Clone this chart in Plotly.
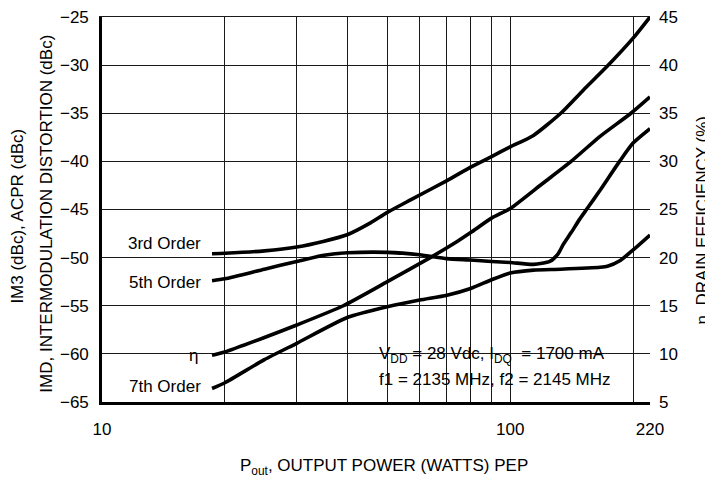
import plotly.graph_objects as go

# ---- data ----
x_3rd = [18.6, 20, 25, 30, 35, 40, 45, 50, 57, 70, 80, 90, 100, 114, 133, 151, 173, 200, 220]
imd_3rd = [-49.6, -49.55, -49.3, -48.9, -48.3, -47.6, -46.5, -45.3, -44.0, -42.0, -40.6, -39.5, -38.5, -37.3, -35.0, -32.6, -30.1, -27.2, -25.0]

x_5th = [18.6, 20, 25, 30, 35, 40, 50, 60, 70, 80, 90, 100, 114, 125, 131, 135, 141, 148, 155, 166, 186, 200, 220]
imd_5th = [-52.4, -52.2, -51.2, -50.4, -49.75, -49.5, -49.45, -49.7, -50.1, -50.25, -50.4, -50.5, -50.7, -50.4, -49.6, -48.6, -47.4, -46.0, -44.8, -43.0, -39.9, -38.1, -36.6]

x_7th = [18.6, 20, 25, 30, 40, 50, 60, 70, 80, 90, 100, 114, 133, 166, 173, 186, 200, 220]
imd_7th = [-63.6, -63.0, -60.6, -58.9, -56.2, -55.1, -54.4, -53.9, -53.2, -52.3, -51.6, -51.3, -51.2, -51.0, -50.9, -50.3, -49.2, -47.65]

x_eff = [18.6, 20, 25, 30, 39, 50, 63.7, 74.3, 80, 90, 100, 120, 141, 166, 197.6, 220]
eff = [9.85, 10.2, 11.7, 13.0, 15.0, 17.5, 20.0, 21.7, 22.6, 24.1, 25.1, 27.7, 30.0, 32.6, 35.0, 36.7]

x_label_vals = [10, 100, 220]
x_grid_vals = [20, 30, 40, 50, 60, 70, 80, 90, 100, 200]
left_ticks = [-65, -60, -55, -50, -45, -40, -35, -30, -25]
right_ticks = [5, 10, 15, 20, 25, 30, 35, 40, 45]

FONT = "Liberation Sans, Arial, Helvetica, sans-serif"
LW = 3.6
XR = [1, 2.3424227]

fig = go.Figure()
for xs, ys in [(x_3rd, imd_3rd), (x_5th, imd_5th), (x_7th, imd_7th)]:
    fig.add_trace(go.Scatter(x=xs, y=ys, mode="lines",
                             line=dict(color="black", width=LW, shape="spline", smoothing=0.6),
                             showlegend=False, hoverinfo="skip"))
fig.add_trace(go.Scatter(x=x_eff, y=eff, mode="lines", yaxis="y2",
                         line=dict(color="black", width=LW, shape="spline", smoothing=0.6),
                         showlegend=False, hoverinfo="skip"))
# empty trace so the grid-only x axis is drawn
fig.add_trace(go.Scatter(x=[], y=[], xaxis="x2", yaxis="y", mode="lines",
                         showlegend=False, hoverinfo="skip"))

# the page body has an 8px margin: screen px = figure px + 8
# plot area in screen pixels: x 102.3..649.6, y 17.3..401.7
def px(x):
    return (x - 102.3) / 547.3

def py(y):
    return (401.7 - y) / 384.4

fig.update_layout(
    width=705, height=470,
    margin=dict(l=94.3, r=63.4, t=9.3, b=76.3, pad=0, autoexpand=False),
    paper_bgcolor="white", plot_bgcolor="white",
    font=dict(family=FONT, size=17, color="black"),
    xaxis=dict(type="log", range=XR, tickvals=x_label_vals,
               showgrid=False,
               showline=True, linecolor="black", linewidth=2.6,
               ticks="", ticklabelstandoff=10, zeroline=False,
               ticklabeloverflow="allow", automargin=False,
               tickfont=dict(size=17)),
    xaxis2=dict(type="log", range=XR, tickvals=x_grid_vals, overlaying="x", side="top",
                showgrid=True, gridcolor="#1a1a1a", gridwidth=1.2,
                showline=True, linecolor="#1a1a1a", linewidth=1.2,
                showticklabels=False, ticks="", zeroline=False, automargin=False),
    yaxis=dict(range=[-65, -25], tickvals=left_ticks,
               showgrid=True, gridcolor="#1a1a1a", gridwidth=1.2,
               showline=True, linecolor="black", linewidth=2.6,
               ticks="", ticklabelstandoff=7, zeroline=False,
               ticklabeloverflow="allow", automargin=False,
               tickfont=dict(size=17)),
    yaxis2=dict(range=[5, 45], tickvals=right_ticks, overlaying="y", side="right",
                showgrid=False, showline=False, ticks="", ticklabelstandoff=8,
                zeroline=False, ticklabeloverflow="allow", automargin=False,
                tickfont=dict(size=17)),
    shapes=[
        dict(type="rect", xref="paper", yref="paper", x0=px(368), x1=px(642), y0=py(393), y1=py(335),
             fillcolor="white", line=dict(width=0), layer="between"),
        dict(type="rect", xref="paper", yref="paper", x0=px(182), x1=px(209), y0=py(364), y1=py(345),
             fillcolor="white", line=dict(width=0), layer="between"),
    ],
)

ann = []
def add_text(text, x, y, xanchor="left", yanchor="middle", angle=0):
    ann.append(dict(text=text, x=px(x), y=py(y), xref="paper", yref="paper",
                    xanchor=xanchor, yanchor=yanchor, showarrow=False, textangle=angle,
                    font=dict(family=FONT, size=17, color="black")))

add_text("3rd Order", 203, 243, xanchor="right")
add_text("5th Order", 203, 282, xanchor="right")
add_text("η", 200, 355, xanchor="right")
add_text("7th Order", 203, 386, xanchor="right")
add_text("V<sub>DD</sub> = 28 Vdc, I<sub>DQ</sub>\u00a0 = 1700 mA", 377, 355)
add_text("f1 = 2135 MHz, f2 = 2145 MHz", 377, 379)
add_text("P<sub>out</sub>, OUTPUT POWER (WATTS) PEP", 384, 467, xanchor="center")
add_text("IM3 (dBc), ACPR (dBc)", 17, 216, xanchor="center", angle=-90)
add_text("IMD, INTERMODULATION DISTORTION (dBc)", 46, 214, xanchor="center", angle=-90)
add_text("η, DRAIN EFFICIENCY (%)", 702, 220, xanchor="center", angle=-90)
fig.update_layout(annotations=ann)

fig.write_html("out.html")
